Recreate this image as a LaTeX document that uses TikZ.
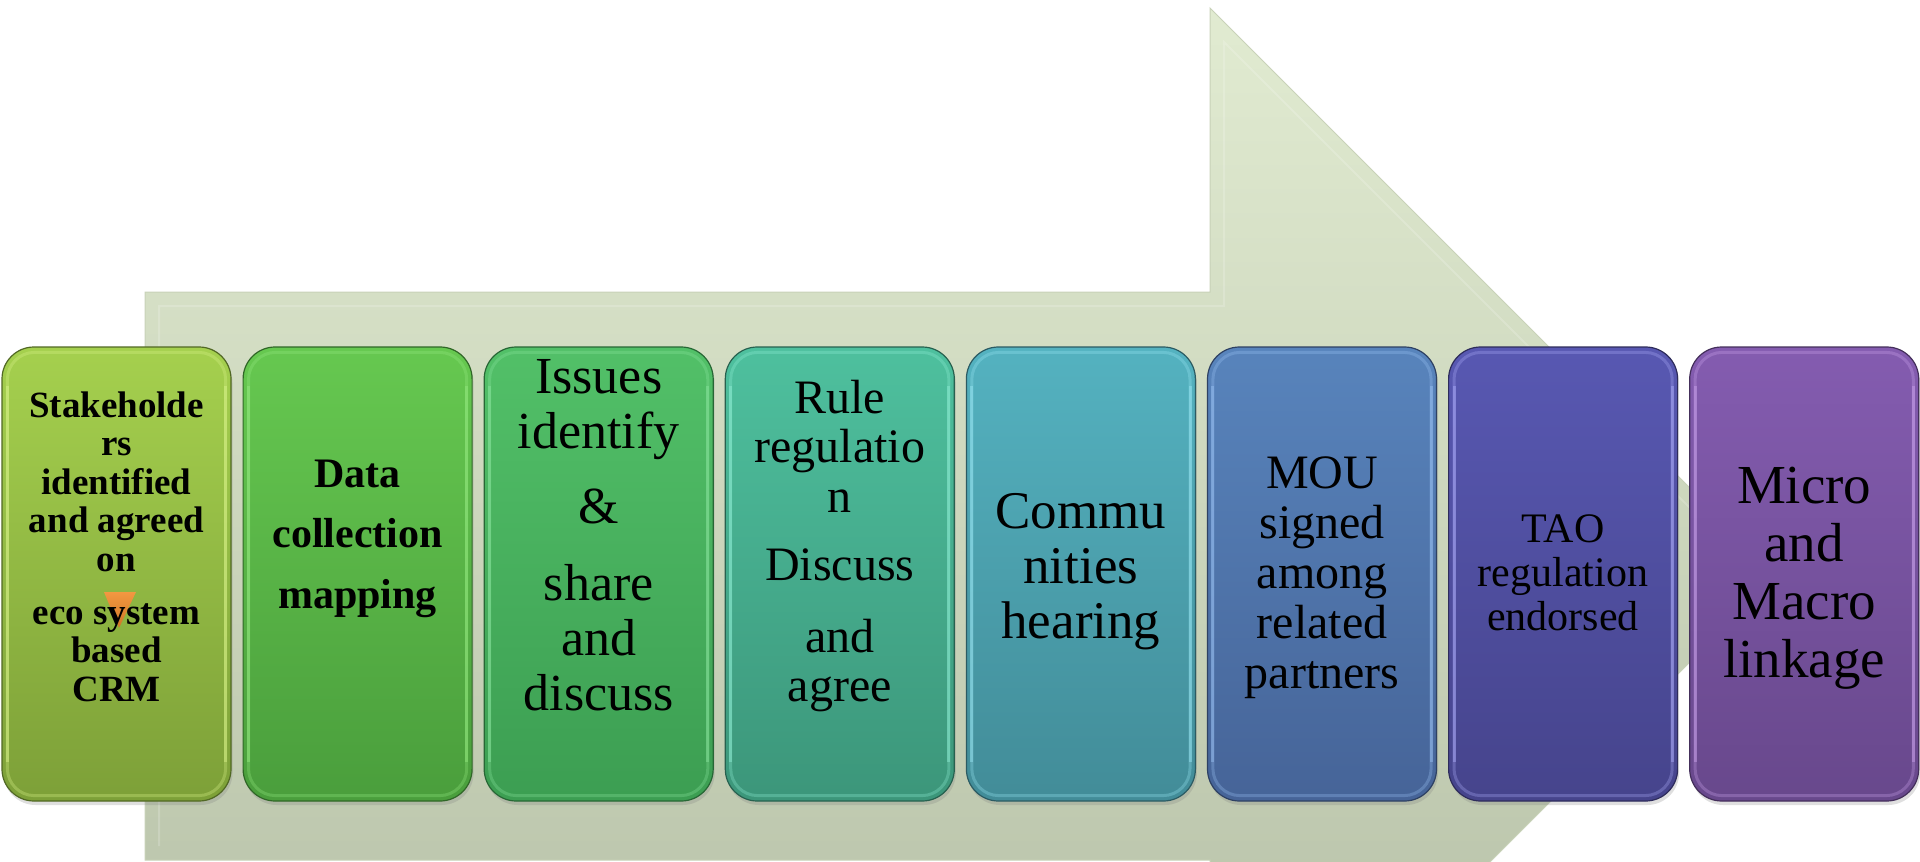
\documentclass[tikz,border=0pt]{standalone}
\usepackage{fontspec}
\setmainfont{Liberation Serif}
\usetikzlibrary{shadows}
\definecolor{arrtop}{RGB}{225,235,209}
\definecolor{arrbot}{RGB}{178,188,163}
\definecolor{arredge}{RGB}{200,210,184}
\definecolor{g1t}{RGB}{165,208,78}\definecolor{g1b}{RGB}{125,160,56}\definecolor{r1}{RGB}{220,245,140}
\definecolor{g2t}{RGB}{102,200,80}\definecolor{g2b}{RGB}{74,158,60}\definecolor{r2}{RGB}{150,235,130}
\definecolor{g3t}{RGB}{82,192,104}\definecolor{g3b}{RGB}{60,158,82}\definecolor{r3}{RGB}{140,230,160}
\definecolor{g4t}{RGB}{78,192,158}\definecolor{g4b}{RGB}{60,150,122}\definecolor{r4}{RGB}{145,240,215}
\definecolor{g5t}{RGB}{84,178,192}\definecolor{g5b}{RGB}{66,140,152}\definecolor{r5}{RGB}{155,232,245}
\definecolor{g6t}{RGB}{88,132,188}\definecolor{g6b}{RGB}{70,100,152}\definecolor{r6}{RGB}{155,195,245}
\definecolor{g7t}{RGB}{88,88,178}\definecolor{g7b}{RGB}{70,68,140}\definecolor{r7}{RGB}{175,175,252}
\definecolor{g8t}{RGB}{132,92,176}\definecolor{g8b}{RGB}{104,72,140}\definecolor{r8}{RGB}{205,165,238}
\definecolor{tri}{RGB}{242,140,44}
\begin{document}
\begin{tikzpicture}[x=1pt,y=-1pt,
  stepbox/.style 2 args={rounded corners=32pt, minimum width=229pt, minimum height=454pt,
    inner sep=0pt, top color=#1, bottom color=#2, draw=#2!65!black, line width=1.2pt,
    drop shadow={shadow xshift=1.5pt, shadow yshift=-4pt, opacity=.25}},
  rim/.style={draw=#1, line width=3pt, opacity=.3, rounded corners=27pt},
  rimside/.style={draw=#1, line width=3pt, opacity=.45},
  txt/.style={anchor=base, inner sep=0pt, text=black}]
\useasboundingbox (0,0) rectangle (1920,862);
\clip (0,0) rectangle (1920,862);
% big background arrow
\shade[top color=arrtop, bottom color=arrbot, draw=arredge, line width=1pt]
  (145,292) -- (1210,292) -- (1210,8) -- (1777,575) -- (1210,1142) -- (1210,860) -- (145,860) -- cycle;
\draw[white, opacity=.18, line width=2pt]
  (159,846) -- (159,306) -- (1224,306) -- (1224,42) -- (1757,575);
% step boxes
\node[stepbox={g1t}{g1b}] (b1) at (116.5,574) {};
\node[stepbox={g2t}{g2b}] (b2) at (357.6,574) {};
\node[stepbox={g3t}{g3b}] (b3) at (598.7,574) {};
\node[stepbox={g4t}{g4b}] (b4) at (839.8,574) {};
\node[stepbox={g5t}{g5b}] (b5) at (1080.9,574) {};
\node[stepbox={g6t}{g6b}] (b6) at (1322,574) {};
\node[stepbox={g7t}{g7b}] (b7) at (1563.1,574) {};
\node[stepbox={g8t}{g8b}] (b8) at (1804.2,574) {};
\foreach \i in {1,...,8}{
  \draw[rim=r\i] ([shift={(6,6)}]b\i.north west) rectangle ([shift={(-6,-6)}]b\i.south east);
  \draw[rimside=r\i] ([shift={(6,40)}]b\i.north west) -- ([shift={(6,-40)}]b\i.south west);
  \draw[rimside=r\i] ([shift={(-6,40)}]b\i.north east) -- ([shift={(-6,-40)}]b\i.south east);
}
% orange marker in the first box
\shade[top color=tri!90!white, bottom color=tri!85!black] (104,592) -- (136,592) -- (119,628) -- cycle;
% texts
\node[txt] (t1) at (116.5,417) {\fontsize{37}{38.5}\selectfont\bfseries
  \begin{tabular}[t]{@{}c@{}}Stakeholde\\rs\\identified\\and agreed\\on\\[14.5pt]eco system\\based\\CRM\end{tabular}};
\node[txt] (t2) at (357.6,487) {\fontsize{42}{60.5}\selectfont\bfseries
  \begin{tabular}[t]{@{}c@{}}Data\\collection\\mapping\end{tabular}};
\node[txt] (t3) at (598.7,393) {\fontsize{52}{55}\selectfont
  \begin{tabular}[t]{@{}c@{}}Issues\\identify\\[20pt]\&\\[22pt]share\\and\\discuss\end{tabular}};
\node[txt] (t4) at (839.8,413) {\fontsize{48}{49.5}\selectfont
  \begin{tabular}[t]{@{}c@{}}Rule\\regulatio\\n\\[18.5pt]Discuss\\[22.5pt]and\\agree\end{tabular}};
\node[txt] (t5) at (1080.9,528) {\fontsize{53}{55}\selectfont
  \begin{tabular}[t]{@{}c@{}}Commu\\nities\\hearing\end{tabular}};
\node[txt] (t6) at (1322,488) {\fontsize{48}{50}\selectfont
  \begin{tabular}[t]{@{}c@{}}MOU\\signed\\among\\related\\partners\end{tabular}};
\node[txt] (t7) at (1563.1,542) {\fontsize{42}{44}\selectfont
  \begin{tabular}[t]{@{}c@{}}TAO\\regulation\\endorsed\end{tabular}};
\node[txt] (t8) at (1804.2,503) {\fontsize{55}{58}\selectfont
  \begin{tabular}[t]{@{}c@{}}Micro\\and\\Macro\\linkage\end{tabular}};
\end{tikzpicture}
\end{document}
